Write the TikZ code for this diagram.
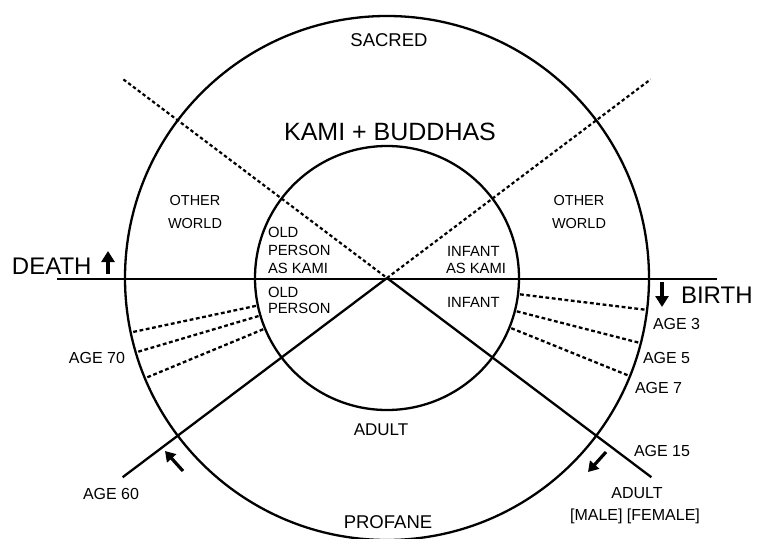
\documentclass[tikz,border=0pt]{standalone}
\usepackage{fontspec}
\setmainfont{Liberation Sans}
\usetikzlibrary{calc,arrows.meta}
\begin{document}
\begin{tikzpicture}[x=1pt,y=-1pt,
  ring/.style={line width=2.3pt},
  axisline/.style={line width=2.6pt},
  diagline/.style={line width=2.3pt},
  dotline/.style={line width=2.2pt, dash pattern=on 3.4pt off 2.6pt},
  agedash/.style={line width=2.3pt, dash pattern=on 3.8pt off 2.6pt},
  bigarrow/.style={line width=4pt, -{Triangle[width=13pt,length=11pt]}},
  smallarrow/.style={line width=3.2pt, -{Triangle[width=12pt,length=10pt]}},
  lbl/.style={inner sep=0pt, outer sep=0pt},
  hugetxt/.style={lbl, font=\fontsize{24}{24}\selectfont},
  titletxt/.style={lbl, font=\fontsize{25}{25}\selectfont},
  regiontxt/.style={lbl, font=\fontsize{18.5}{20}\selectfont},
  worldtxt/.style={lbl, font=\fontsize{14.5}{16}\selectfont},
  innertxt/.style={lbl, font=\fontsize{14.8}{16}\selectfont},
  agetxt/.style={lbl, font=\fontsize{16}{18}\selectfont}
]
\useasboundingbox (0,0) rectangle (757,538);
\fill[white] (0,0) rectangle (757,538);

\coordinate (C) at (387,278);

% circles
\draw[ring] (C) circle[radius=262];
\draw[ring] (C) circle[radius=132];

% horizontal axis
\coordinate (HL) at (57,279);
\coordinate (HR) at (717,279);
\draw[axisline] (HL) -- (HR);

% diagonals
\coordinate (UL) at ($(C)+(143:330pt)$);
\coordinate (UR) at ($(C)+(37:330pt)$);
\coordinate (LL) at ($(C)+(217:331pt)$);
\coordinate (LR) at ($(C)+(-37:331pt)$);
\draw[dotline] (UL) -- (C);
\draw[dotline] (C) -- (UR);
\draw[diagline] (C) -- (LL);
\draw[diagline] (C) -- (LR);

% age dashed radial segments
\foreach \a in {192,196.5,202.5,-7,-14.4,-22}{
  \draw[agedash] ($(C)+(\a:134pt)$) -- ($(C)+(\a:260pt)$);
}

% arrows
\coordinate (DA1) at (108,274);
\coordinate (DA2) at (108,251);
\draw[bigarrow] (DA1) -- (DA2);
\coordinate (BA1) at (662,282);
\coordinate (BA2) at (662,307);
\draw[bigarrow] (BA1) -- (BA2);
\coordinate (SA1) at (183,471);
\coordinate (SA2) at (165,451);
\draw[smallarrow] (SA1) -- (SA2);
\coordinate (SB1) at (606,452);
\coordinate (SB2) at (588,472);
\draw[smallarrow] (SB1) -- (SB2);

% texts
\node[hugetxt, anchor=base west] (death) at (12,274) {DEATH};
\node[hugetxt, anchor=base west] (birth) at (681,303) {BIRTH};
\node[regiontxt, anchor=base] (sacred) at (389,46) {SACRED};
\node[titletxt, anchor=base] (kami) at (390,140) {KAMI + BUDDHAS};
\node[regiontxt, anchor=base] (profane) at (388,528) {PROFANE};
\node[agetxt, font=\fontsize{17}{18}\selectfont, anchor=base] (adult) at (381,435) {ADULT};

\node[worldtxt, anchor=base] (owl1) at (195,205) {OTHER};
\node[worldtxt, anchor=base] (owl2) at (195,228) {WORLD};
\node[worldtxt, anchor=base] (owr1) at (579,205) {OTHER};
\node[worldtxt, anchor=base] (owr2) at (579,228) {WORLD};

\node[innertxt, anchor=base west] (opk1) at (268,237) {OLD};
\node[innertxt, anchor=base west] (opk2) at (268,255) {PERSON};
\node[innertxt, anchor=base west] (opk3) at (268,273) {AS KAMI};
\node[innertxt, anchor=base west] (op1) at (268,297) {OLD};
\node[innertxt, anchor=base west] (op2) at (268,313) {PERSON};
\node[innertxt, anchor=base west] (ik1) at (447,256) {INFANT};
\node[innertxt, anchor=base west] (ik2) at (446,273) {AS KAMI};
\node[innertxt, anchor=base west] (inf) at (447,307) {INFANT};

\node[agetxt, anchor=base east] (a70) at (125,363) {AGE 70};
\node[agetxt, anchor=base west] (a3) at (653,329) {AGE 3};
\node[agetxt, anchor=base west] (a5) at (643,363) {AGE 5};
\node[agetxt, anchor=base west] (a7) at (635,393) {AGE 7};
\node[agetxt, anchor=base west] (a60) at (83,499) {AGE 60};
\node[agetxt, anchor=base west] (a15) at (634,456) {AGE 15};
\node[agetxt, anchor=base] (ad1) at (637,498) {ADULT};
\node[agetxt, anchor=base] (ad2) at (635,520) {[MALE] [FEMALE]};
\end{tikzpicture}
\end{document}
